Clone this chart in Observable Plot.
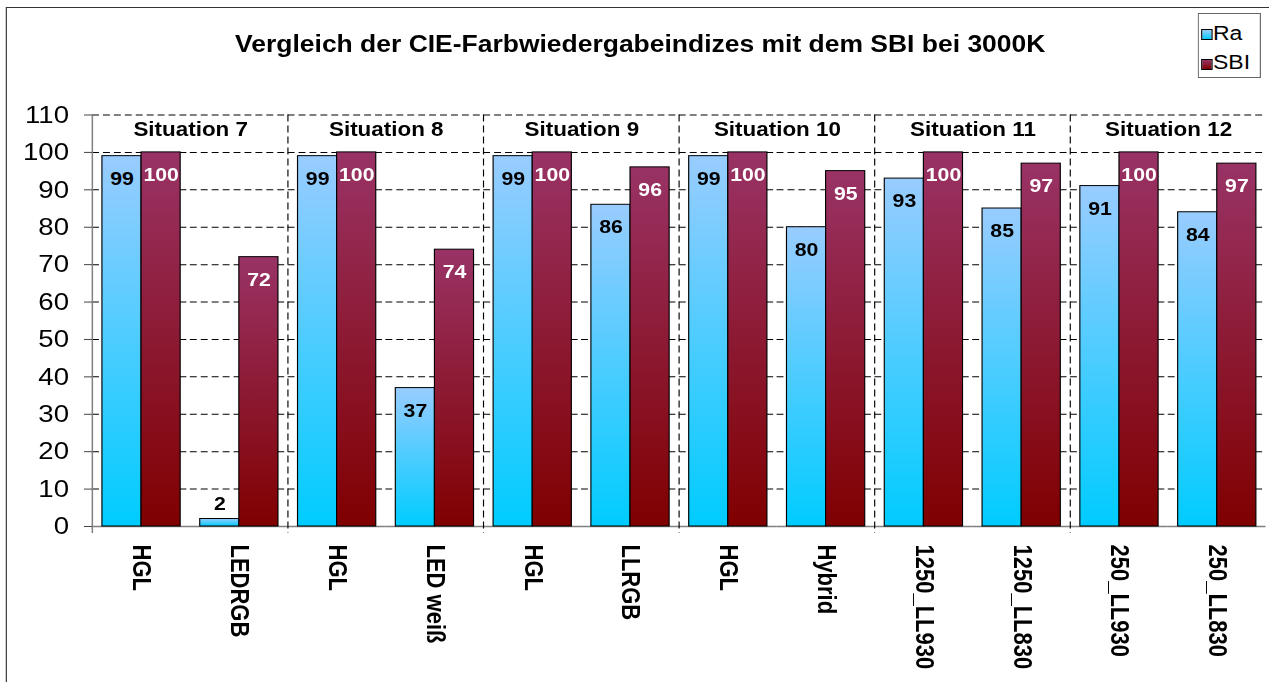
<!DOCTYPE html>
<html><head><meta charset="utf-8">
<script src="https://cdn.jsdelivr.net/npm/d3@7"></script>
<script src="https://cdn.jsdelivr.net/npm/@observablehq/plot@0.6"></script>
<style>
html,body{margin:0;padding:0;background:#fff;overflow:hidden}
#outer{position:relative;width:1269px;height:682px;overflow:hidden;background:#fff}
#wrap{position:absolute;left:0;top:0;width:1103px;height:682px;transform-origin:0 0;font-family:Arial,"Liberation Sans",Helvetica,sans-serif}
#frame{position:absolute;left:5.2px;top:7.2px;width:1200px;height:800px;border:1.7px solid #333}
#chart{position:absolute;left:0;top:0}
#title{position:absolute;left:0;top:32.5px;width:1113px;text-align:center;font-weight:bold;font-size:23px;line-height:23px;color:#000;white-space:nowrap}
#legend{position:absolute;left:1041px;top:13px;width:54.7px;height:65px;border:1px solid #666;box-sizing:border-box;background:#fff}
.sw{position:absolute;left:1.5px;width:10px;height:11px;border:1px solid #000;box-sizing:border-box}
.lt{position:absolute;left:12.3px;font-size:20px;line-height:20px;color:#000;white-space:nowrap}
</style>
</head><body>
<div id="outer"><div id="wrap">
  <div id="frame"></div>
  <div id="chart"></div>
  <div id="title"></div>
  <div id="legend"></div>
</div></div>
<script>
// ---- data ----
const title = "Vergleich der CIE-Farbwiedergabeindizes mit dem SBI bei 3000K";
const series = ["Ra", "SBI"];
const categories = ["HGL", "LEDRGB", "HGL", "LED weiß", "HGL", "LLRGB", "HGL", "Hybrid", "1250_LL930", "1250_LL830", "250_LL930", "250_LL830"];
const categorySituation = ["Situation 7", "Situation 7", "Situation 8", "Situation 8", "Situation 9", "Situation 9", "Situation 10", "Situation 10", "Situation 11", "Situation 11", "Situation 12", "Situation 12"];
const raValues = [99, 2, 99, 37, 99, 86, 99, 80, 93, 85, 91, 84];
const sbiValues = [100, 72, 100, 74, 100, 96, 100, 95, 100, 97, 100, 97];
const yTicks = [0, 10, 20, 30, 40, 50, 60, 70, 80, 90, 100, 110];
const seriesColors = {Ra: ["#99CCFF", "#00CCFF"], SBI: ["#993366", "#800000"]};

// ---- derived tables ----
const keys = categories.map((c, i) => "c" + i);
const raRows = keys.map((k, i) => ({key: k, series: "Ra", value: raValues[i]}));
const sbiRows = keys.map((k, i) => ({key: k, series: "SBI", value: sbiValues[i]}));
const firstOfGroup = keys.map((k, i) => ({key: k, situation: categorySituation[i], first: i === 0 || categorySituation[i] !== categorySituation[i - 1], idx: i}))
  .filter(d => d.first);
const sepRows = firstOfGroup.filter(d => d.idx > 0);
const axisRows = firstOfGroup.filter(d => d.idx === 0);

// ---- layout ----
const W = 1103, H = 682, ML = 77.4, MR = 0, MT = 114.5, MB = 156;
const stretch = 1269 / W;
const bw = (W - ML - MR) / categories.length;
document.getElementById("wrap").style.transform = `scaleX(${stretch})`;
document.getElementById("title").textContent = title;

const chart = Plot.plot({
  width: W, height: H,
  marginLeft: ML, marginRight: MR, marginTop: MT, marginBottom: MB,
  style: {fontFamily: "Arial, 'Liberation Sans', sans-serif", background: "transparent", overflow: "visible", color: "#000"},
  fx: {domain: keys, padding: 0},
  x: {domain: series, paddingInner: 0, paddingOuter: 0.244, axis: null},
  y: {domain: [0, 110], axis: null},
  marks: [
    Plot.gridY(yTicks.filter(v => v > 0), {stroke: "#000", strokeOpacity: 1, strokeWidth: 1, strokeDasharray: "6,3.5"}),
    Plot.ruleY([0], {stroke: "#808080", strokeWidth: 1.3}),
    Plot.ruleX(sepRows, {fx: "key", x: null, y1: 110, y2: 0, dx: -bw / 2, insetBottom: -7, stroke: "#000", strokeWidth: 1, strokeDasharray: "7,4"}),
    Plot.ruleX(axisRows, {fx: "key", x: null, y1: 110, y2: 0, dx: -bw / 2, insetBottom: -7, stroke: "#808080", strokeWidth: 1.3}),
    Plot.barY(raRows, {fx: "key", x: "series", y: "value", fill: "url(#gradRa)", stroke: "#000", strokeWidth: 1}),
    Plot.barY(sbiRows, {fx: "key", x: "series", y: "value", fill: "url(#gradSBI)", stroke: "#000", strokeWidth: 1}),
    Plot.text(raRows.filter(d => d.value >= 10), {fx: "key", x: "series", y: "value", text: d => String(d.value), lineAnchor: "top", dy: 15.5, fill: "#000", fontSize: 18.5, fontWeight: "bold"}),
    Plot.text(raRows.filter(d => d.value < 10), {fx: "key", x: "series", y: "value", text: d => String(d.value), lineAnchor: "top", dy: -22, fill: "#000", fontSize: 18.5, fontWeight: "bold"}),
    Plot.text(sbiRows, {fx: "key", x: "series", y: "value", text: d => String(d.value), lineAnchor: "top", dy: 15.5, fill: "#fff", fontSize: 18.5, fontWeight: "bold"}),
    Plot.text(firstOfGroup, {fx: "key", text: "situation", frameAnchor: "top", lineAnchor: "top", dx: bw / 2, dy: 7, fill: "#000", fontSize: 19.5, fontWeight: "bold"}),
    Plot.axisY({ticks: yTicks, tickSize: 7, tickPadding: 13.5, fontSize: 24, stroke: "#444", fill: "#000", label: null}),
    Plot.axisFx({anchor: "bottom", tickRotate: 90, tickSize: 0, tickPadding: 18, fontSize: 22, fontWeight: "bold", fill: "#000", label: null, tickFormat: k => categories[keys.indexOf(k)]})
  ]
});

// gradients for bars
const NS = "http://www.w3.org/2000/svg";
const defs = document.createElementNS(NS, "defs");
for (const s of series) {
  const g = document.createElementNS(NS, "linearGradient");
  g.setAttribute("id", "grad" + s);
  g.setAttribute("x1", "0"); g.setAttribute("y1", "0"); g.setAttribute("x2", "0"); g.setAttribute("y2", "1");
  seriesColors[s].forEach((c, j) => {
    const st = document.createElementNS(NS, "stop");
    st.setAttribute("offset", j === 0 ? "0" : "1");
    st.setAttribute("stop-color", c);
    g.appendChild(st);
  });
  defs.appendChild(g);
}
chart.insertBefore(defs, chart.firstChild);
document.getElementById("chart").appendChild(chart);

// legend
const legend = document.getElementById("legend");
series.forEach((s, i) => {
  const sw = document.createElement("div");
  sw.className = "sw";
  sw.style.top = (15 + i * 29.5) + "px";
  sw.style.background = `linear-gradient(${seriesColors[s][0]}, ${seriesColors[s][1]})`;
  legend.appendChild(sw);
  const t = document.createElement("div");
  t.className = "lt";
  t.style.top = (8.6 + i * 29.5) + "px";
  t.textContent = s;
  legend.appendChild(t);
});
</script>
</body></html>
